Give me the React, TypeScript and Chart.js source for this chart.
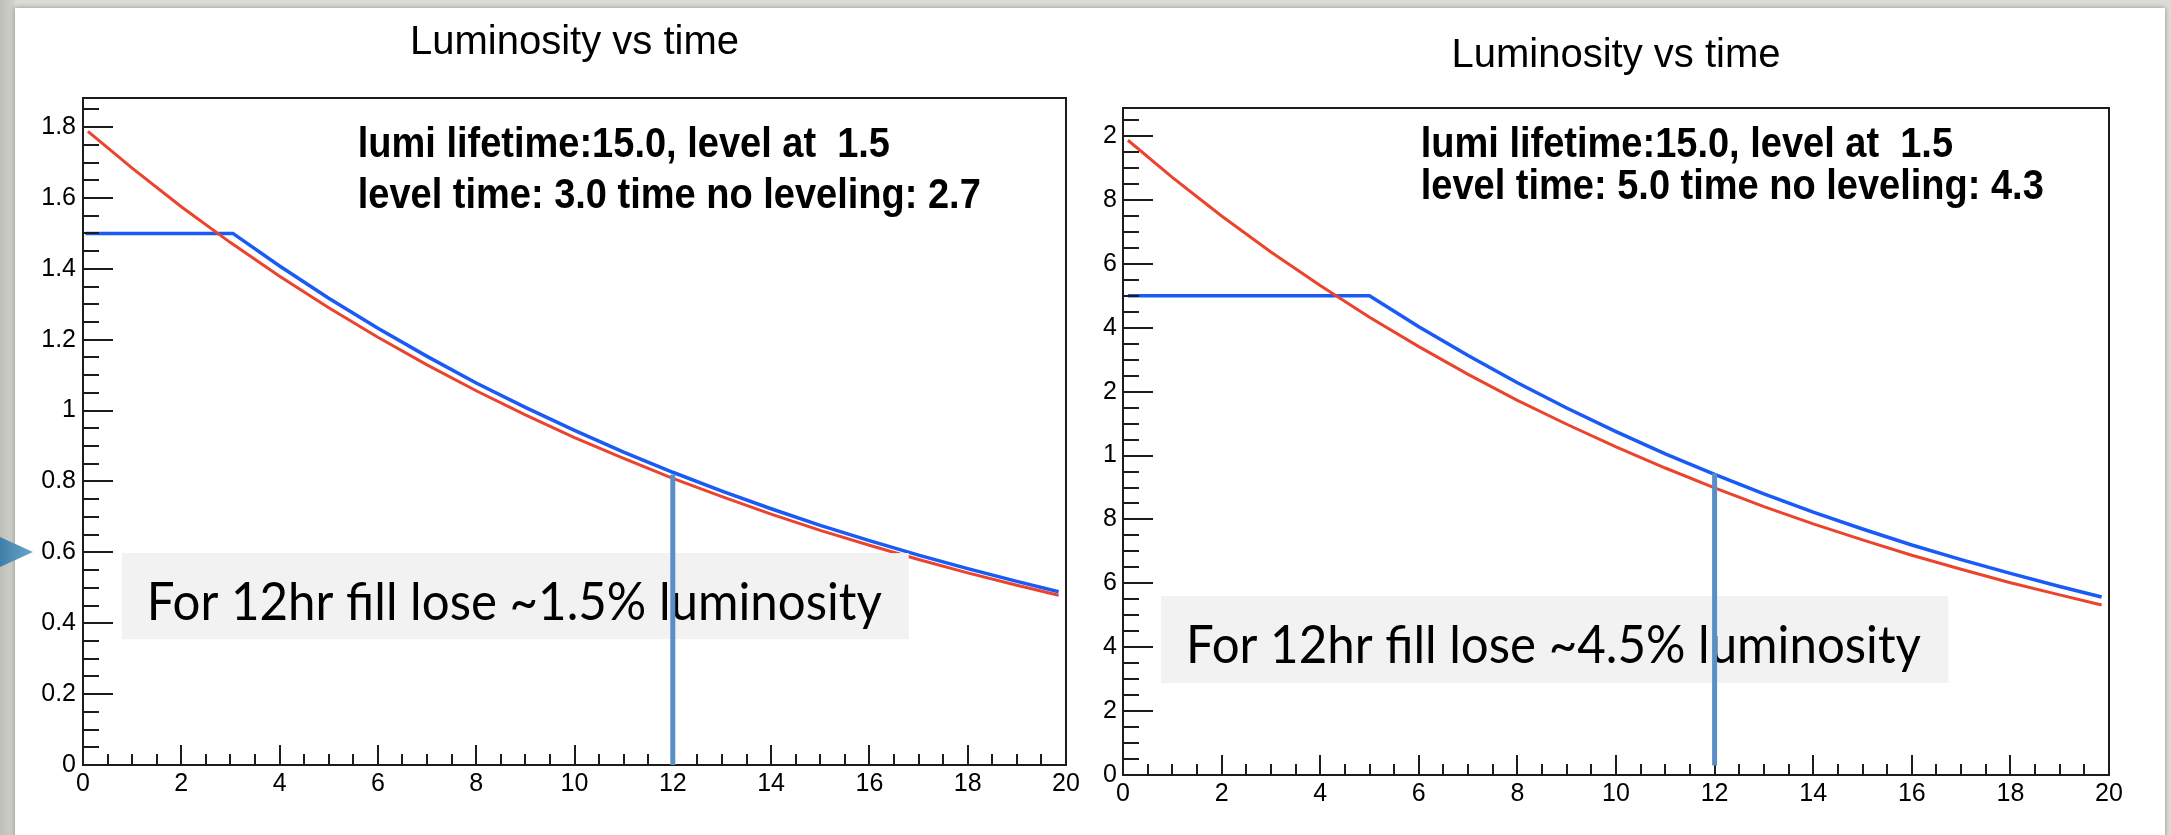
import React, { useEffect, useRef } from "react";
import { Chart, registerables } from "chart.js";

Chart.register(...registerables);

// ---------------- data ----------------
const TITLE = "Luminosity vs time";

const LEFT_RED_T = [0.1, 1, 2, 3, 4, 5, 6, 7, 8, 9, 10, 11, 12, 13, 14, 15, 16, 17, 18, 19, 19.85];
const LEFT_RED_V = [1.788, 1.684, 1.575, 1.474, 1.379, 1.29, 1.207, 1.129, 1.056, 0.988, 0.924, 0.865, 0.809, 0.757, 0.708, 0.662, 0.62, 0.58, 0.542, 0.507, 0.479];
const LEFT_BLUE_T = [0.05, 3.05, 4, 5, 6, 7, 8, 9, 10, 11, 12, 13, 14, 15, 16, 17, 18, 19, 19.85];
const LEFT_BLUE_V = [1.5, 1.5, 1.408, 1.317, 1.232, 1.153, 1.078, 1.009, 0.944, 0.883, 0.826, 0.773, 0.723, 0.676, 0.633, 0.592, 0.554, 0.518, 0.489];

const RIGHT_RED_T = [0.1, 1, 2, 3, 4, 5, 6, 7, 8, 9, 10, 11, 12, 13, 14, 15, 16, 17, 18, 19, 19.85];
const RIGHT_RED_V = [1.987, 1.871, 1.75, 1.637, 1.532, 1.433, 1.341, 1.254, 1.173, 1.098, 1.027, 0.961, 0.899, 0.84, 0.786, 0.736, 0.688, 0.644, 0.602, 0.564, 0.532];
const RIGHT_BLUE_T = [0.1, 5.0, 6, 7, 8, 9, 10, 11, 12, 13, 14, 15, 16, 17, 18, 19, 19.85];
const RIGHT_BLUE_V = [1.5, 1.5, 1.403, 1.313, 1.228, 1.149, 1.075, 1.005, 0.941, 0.88, 0.823, 0.77, 0.72, 0.674, 0.631, 0.59, 0.557];

const X_TICKS = [0, 2, 4, 6, 8, 10, 12, 14, 16, 18, 20];
const X_TICK_LABELS = ["0", "2", "4", "6", "8", "10", "12", "14", "16", "18", "20"];
const LEFT_Y_TICKS = [0, 0.2, 0.4, 0.6, 0.8, 1, 1.2, 1.4, 1.6, 1.8];
const LEFT_Y_LABELS = ["0", "0.2", "0.4", "0.6", "0.8", "1", "1.2", "1.4", "1.6", "1.8"];
const RIGHT_Y_TICKS = [0, 0.2, 0.4, 0.6, 0.8, 1, 1.2, 1.4, 1.6, 1.8, 2];
const RIGHT_Y_LABELS = ["0", "2", "4", "6", "8", "1", "2", "4", "6", "8", "2"];

const LEFT_Y_MAX = 1.882;
const RIGHT_Y_MAX = 2.088;

const LEFT_INFO = ["lumi lifetime:15.0, level at  1.5", "level time: 3.0 time no leveling: 2.7"];
const RIGHT_INFO = ["lumi lifetime:15.0, level at  1.5", "level time: 5.0 time no leveling: 4.3"];
const LEFT_INFO_POS = { t: 5.59, v: [1.749, 1.605] };
const RIGHT_INFO_POS = { t: 6.04, v: [1.972, 1.841] };

const LEFT_NOTE = "For 12hr fill lose ~1.5% luminosity";
const RIGHT_NOTE = "For 12hr fill lose ~4.5% luminosity";
const LEFT_NOTE_BOX = { t0: 0.79, t1: 16.8, v0: 0.355, v1: 0.598 };
const RIGHT_NOTE_BOX = { t0: 0.77, t1: 16.74, v0: 0.288, v1: 0.56 };

const MARK_T = 12;
const LEFT_MARK_RANGE = [0, 0.82];
const RIGHT_MARK_RANGE = [0.03, 0.945];

// ---------------- styles ----------------
const RED = "#ec432d";
const BLUE = "#1a5af5";
const MARK_COLOR = "#5a8ec6";
const AXIS_FONT = '"Liberation Sans", Arial, Helvetica, sans-serif';
const NOTE_FONT = 'Lato, "Open Sans", sans-serif';

const pts = (t: number[], v: number[]) => t.map((x, i) => ({ x, y: v[i] }));

const rootDecor = {
  id: "rootDecor",
  afterDatasetsDraw(chart: any, _args: any, o: any) {
    const { ctx, chartArea: a } = chart;
    const xs = chart.scales.x;
    const ys = chart.scales.y;
    ctx.save();
    // frame
    ctx.strokeStyle = "#1c1c1c";
    ctx.lineWidth = 2;
    ctx.strokeRect(a.left, a.top, a.right - a.left, a.bottom - a.top);
    // ticks (inward, ROOT style)
    ctx.beginPath();
    const eps = 1e-6;
    for (let k = 0; k * 0.05 <= ys.max + eps; k++) {
      const v = k * 0.05;
      const major = o.yTicks.some((m: number) => Math.abs(m - v) < eps);
      const py = Math.round(ys.getPixelForValue(v));
      ctx.moveTo(a.left, py);
      ctx.lineTo(a.left + (major ? o.yMajor : o.yMinor), py);
    }
    for (let k = 0; k * 0.5 <= 20 + eps; k++) {
      const v = k * 0.5;
      const major = X_TICKS.some((m) => Math.abs(m - v) < eps);
      const px = Math.round(xs.getPixelForValue(v));
      ctx.moveTo(px, a.bottom);
      ctx.lineTo(px, a.bottom - (major ? o.xMajor : o.xMinor));
    }
    ctx.stroke();

    // statistics text
    ctx.fillStyle = "#000";
    ctx.font = `bold 38px ${AXIS_FONT}`;
    ctx.textBaseline = "middle";
    ctx.textAlign = "left";
    o.info.forEach((line: string, i: number) => {
      const px = xs.getPixelForValue(o.infoPos.t);
      const py = ys.getPixelForValue(o.infoPos.v[i]);
      ctx.save();
      ctx.translate(px, py);
      ctx.scale(1, 1.12);
      ctx.fillText(line, 0, 0);
      ctx.restore();
    });

    // note box
    const bx0 = xs.getPixelForValue(o.box.t0);
    const bx1 = xs.getPixelForValue(o.box.t1);
    const by0 = ys.getPixelForValue(o.box.v1);
    const by1 = ys.getPixelForValue(o.box.v0);
    ctx.fillStyle = "#f2f2f2";
    ctx.fillRect(bx0, by0, bx1 - bx0, by1 - by0);
    ctx.fillStyle = "#000";
    ctx.font = `53px ${NOTE_FONT}`;
    ctx.textBaseline = "alphabetic";
    const w = ctx.measureText(o.note).width;
    const sx = 735 / w;
    ctx.save();
    ctx.translate(bx0 + 25, by0 + 67);
    ctx.scale(sx, 1);
    ctx.fillText(o.note, 0, 0);
    ctx.restore();

    // vertical marker line
    const mx = xs.getPixelForValue(MARK_T);
    ctx.strokeStyle = MARK_COLOR;
    ctx.lineWidth = 5;
    ctx.beginPath();
    ctx.moveTo(mx, ys.getPixelForValue(o.mark[0]));
    ctx.lineTo(mx, ys.getPixelForValue(o.mark[1]));
    ctx.stroke();
    ctx.restore();
  },
};

function makeConfig(p: any) {
  const tickFont = { family: AXIS_FONT, size: 25 };
  return {
    type: "line",
    data: {
      datasets: [
        { data: pts(p.redT, p.redV), borderColor: RED, borderWidth: 3, pointRadius: 0, tension: 0, fill: false },
        { data: pts(p.blueT, p.blueV), borderColor: BLUE, borderWidth: 3.5, pointRadius: 0, tension: 0, fill: false },
      ],
    },
    options: {
      responsive: false,
      animation: false,
      devicePixelRatio: 1,
      events: [],
      layout: { padding: { left: 0, right: p.padRight, top: 0, bottom: 0 } },
      plugins: {
        legend: { display: false },
        tooltip: { enabled: false },
        title: {
          display: true,
          text: TITLE,
          fullSize: false,
          color: "#000",
          font: { family: AXIS_FONT, size: 40, weight: "normal", lineHeight: 1.2 },
          padding: { top: p.titleTop, bottom: p.titleBottom },
        },
        rootDecor: {
          yTicks: p.yTicks,
          yMajor: 30,
          yMinor: 16,
          xMajor: 20,
          xMinor: 11,
          info: p.info,
          infoPos: p.infoPos,
          note: p.note,
          box: p.box,
          mark: p.mark,
        },
      },
      scales: {
        x: {
          type: "linear",
          min: 0,
          max: 20,
          grid: { display: false, drawTicks: false },
          border: { display: false },
          afterBuildTicks: (s: any) => {
            s.ticks = X_TICKS.map((v) => ({ value: v }));
          },
          afterFit: (s: any) => {
            s.height = p.xHeight;
          },
          ticks: {
            autoSkip: false,
            maxRotation: 0,
            padding: 4,
            color: "#000",
            font: tickFont,
            callback: (_v: any, i: number) => X_TICK_LABELS[i],
          },
        },
        y: {
          type: "linear",
          min: 0,
          max: p.yMax,
          grid: { display: false, drawTicks: false },
          border: { display: false },
          afterBuildTicks: (s: any) => {
            s.ticks = p.yTicks.map((v: number) => ({ value: v }));
          },
          afterFit: (s: any) => {
            s.width = p.yWidth;
          },
          ticks: {
            autoSkip: false,
            padding: p.yPad,
            color: "#000",
            font: tickFont,
            callback: (_v: any, i: number) => p.yLabels[i],
          },
        },
      },
    },
    plugins: [rootDecor],
  } as any;
}

function RootChart(props: { params: any; left: number; top: number }) {
  const ref = useRef<HTMLCanvasElement | null>(null);
  useEffect(() => {
    if (!ref.current) return;
    const chart = new Chart(ref.current, makeConfig(props.params));
    return () => chart.destroy();
  }, []);
  return (
    <canvas
      ref={ref}
      width={1075}
      height={827}
      style={{ position: "absolute", left: props.left, top: props.top, width: 1075, height: 827, display: "block" }}
    />
  );
}

const LEFT_PARAMS = {
  redT: LEFT_RED_T, redV: LEFT_RED_V, blueT: LEFT_BLUE_T, blueV: LEFT_BLUE_V,
  yTicks: LEFT_Y_TICKS, yLabels: LEFT_Y_LABELS, yMax: LEFT_Y_MAX,
  info: LEFT_INFO, infoPos: LEFT_INFO_POS, note: LEFT_NOTE, box: LEFT_NOTE_BOX, mark: LEFT_MARK_RANGE,
  padRight: 24, yWidth: 68, xHeight: 70, yPad: 7, titleTop: 11, titleBottom: 31,
};
const RIGHT_PARAMS = {
  redT: RIGHT_RED_T, redV: RIGHT_RED_V, blueT: RIGHT_BLUE_T, blueV: RIGHT_BLUE_V,
  yTicks: RIGHT_Y_TICKS, yLabels: RIGHT_Y_LABELS, yMax: RIGHT_Y_MAX,
  info: RIGHT_INFO, infoPos: RIGHT_INFO_POS, note: RIGHT_NOTE, box: RIGHT_NOTE_BOX, mark: RIGHT_MARK_RANGE,
  padRight: 56, yWidth: 33, xHeight: 60, yPad: 6, titleTop: 24, titleBottom: 28,
};

export default function App() {
  return (
    <div
      style={{
        position: "fixed",
        left: 0,
        top: 0,
        width: 2171,
        height: 835,
        overflow: "hidden",
        background: "#dcdbd6",
      }}
    >
      <div
        style={{
          position: "absolute",
          left: 0,
          top: 0,
          width: 15,
          height: 835,
          background: "linear-gradient(to right, #bdbeb6, #d3d4cd)",
        }}
      />
      <div
        style={{
          position: "absolute",
          left: 15,
          top: 8,
          width: 2150,
          height: 900,
          background: "#ffffff",
          boxShadow: "0 0 5px rgba(0,0,0,0.35)",
        }}
      />
      <RootChart params={LEFT_PARAMS} left={15} top={8} />
      <RootChart params={RIGHT_PARAMS} left={1090} top={8} />
      <div
        style={{
          position: "absolute",
          left: 0,
          top: 537,
          width: 33,
          height: 30,
          background: "linear-gradient(to right, #3f7fa8, #6aa6cc)",
          clipPath: "polygon(0 0, 100% 50%, 0 100%)",
        }}
      />
    </div>
  );
}
